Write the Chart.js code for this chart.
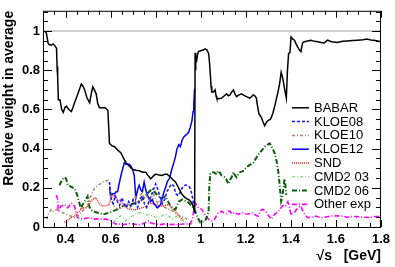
<!DOCTYPE html>
<html>
<head>
<meta charset="utf-8">
<script src="https://cdn.jsdelivr.net/npm/chart.js@4.4.1/dist/chart.umd.min.js"></script>
<style>
  html, body { margin: 0; padding: 0; background: #fff; }
  #wrap { width: 395px; height: 267px; }
</style>
</head>
<body>
<div id="wrap"><canvas id="chart" width="395" height="267"></canvas></div>
<script>
// Axis titles
const xTitle = '\u221As   [GeV]';
const yTitle = 'Relative weight in average';

// Series: [sqrt(s) in GeV, relative weight]
const babar = [
  [0.308,1.0],[0.315,0.99],[0.323,0.937],[0.330,0.93],[0.338,0.93],[0.345,0.935],[0.353,0.925],[0.360,0.913],
  [0.363,0.80],[0.364,0.82],[0.366,0.77],[0.368,0.65],[0.375,0.65],[0.383,0.60],[0.390,0.585],[0.397,0.61],
  [0.404,0.616],[0.415,0.60],[0.426,0.59],[0.433,0.61],[0.440,0.634],[0.455,0.68],[0.470,0.73],[0.477,0.72],
  [0.485,0.70],[0.495,0.66],[0.507,0.634],[0.514,0.68],[0.521,0.715],[0.528,0.70],[0.536,0.68],[0.543,0.63],
  [0.550,0.61],[0.560,0.608],[0.573,0.61],[0.580,0.605],[0.588,0.595],[0.592,0.50],[0.595,0.427],[0.605,0.415],
  [0.617,0.41],[0.630,0.395],[0.646,0.378],[0.658,0.35],[0.668,0.33],[0.683,0.31],[0.697,0.295],[0.712,0.29],
  [0.727,0.287],[0.742,0.28],[0.756,0.28],[0.765,0.265],[0.778,0.246],[0.790,0.26],[0.800,0.27],[0.815,0.265],
  [0.829,0.263],[0.840,0.27],[0.851,0.27],[0.866,0.254],[0.878,0.24],[0.888,0.23],[0.903,0.197],[0.915,0.17],
  [0.925,0.156],[0.937,0.145],[0.947,0.14],[0.955,0.13],[0.961,0.122],[0.969,0.098],[0.973,0.075],[0.975,0.89],
  [0.977,0.80],[0.979,0.86],[0.982,0.85],[0.986,0.88],[0.990,0.896],[1.000,0.90],[1.013,0.905],[1.020,0.91],
  [1.027,0.905],[1.035,0.888],[1.039,0.84],[1.042,0.79],[1.046,0.72],[1.049,0.69],[1.057,0.69],[1.064,0.70],
  [1.068,0.67],[1.071,0.658],[1.080,0.655],[1.093,0.658],[1.105,0.67],[1.115,0.68],[1.122,0.67],[1.130,0.674],
  [1.138,0.69],[1.145,0.70],[1.152,0.68],[1.159,0.666],[1.170,0.675],[1.181,0.68],[1.192,0.672],[1.203,0.666],
  [1.218,0.658],[1.225,0.665],[1.233,0.674],[1.240,0.67],[1.247,0.658],[1.252,0.62],[1.258,0.58],[1.269,0.56],
  [1.277,0.535],[1.284,0.517],[1.292,0.535],[1.300,0.545],[1.310,0.55],[1.320,0.58],[1.330,0.625],[1.343,0.69],
  [1.350,0.73],[1.357,0.79],[1.364,0.76],[1.372,0.707],[1.380,0.658],[1.385,0.80],[1.390,0.885],[1.396,0.89],
  [1.401,0.97],[1.408,0.96],[1.416,0.954],[1.423,0.935],[1.430,0.92],[1.438,0.905],[1.445,0.896],[1.452,0.94],
  [1.460,0.946],[1.475,0.95],[1.489,0.954],[1.505,0.948],[1.519,0.946],[1.535,0.942],[1.548,0.94],[1.563,0.954],
  [1.580,0.946],[1.607,0.942],[1.630,0.948],[1.650,0.95],[1.675,0.952],[1.695,0.954],[1.720,0.956],[1.738,0.96],
  [1.755,0.955],[1.768,0.954],[1.785,0.95],[1.800,0.946]
];

const kloe08 = [
  [0.595,0.23],[0.603,0.14],[0.612,0.12],[0.620,0.16],[0.630,0.13],[0.640,0.11],[0.650,0.15],[0.660,0.12],
  [0.670,0.10],[0.680,0.13],[0.690,0.11],[0.700,0.14],[0.710,0.12],[0.720,0.10],[0.730,0.14],[0.740,0.16],
  [0.750,0.12],[0.760,0.10],[0.770,0.13],[0.780,0.16],[0.790,0.19],[0.800,0.22],[0.810,0.19],[0.820,0.15],
  [0.830,0.12],[0.840,0.14],[0.850,0.18],[0.860,0.20],[0.870,0.22],[0.880,0.21],[0.890,0.17],[0.900,0.16],
  [0.910,0.18],[0.920,0.205],[0.930,0.213],[0.940,0.213],[0.950,0.205],[0.958,0.18],[0.965,0.14],[0.970,0.10],
  [0.975,0.07]
];

const kloe10 = [
  [0.316,0.04],[0.325,0.07],[0.337,0.09],[0.345,0.081],[0.351,0.081],[0.360,0.09],[0.367,0.09],[0.380,0.075],
  [0.395,0.07],[0.410,0.06],[0.425,0.055],[0.440,0.05],[0.448,0.048],[0.460,0.06],[0.475,0.08],[0.490,0.10],
  [0.500,0.115],[0.510,0.15],[0.520,0.18],[0.530,0.20],[0.543,0.213],[0.555,0.22],[0.565,0.23],[0.573,0.232],
  [0.587,0.238],[0.595,0.22],[0.600,0.15],[0.610,0.12],[0.620,0.10],[0.635,0.09],[0.650,0.10],[0.665,0.11],
  [0.680,0.12],[0.690,0.10],[0.700,0.13],[0.710,0.16],[0.720,0.12],[0.730,0.15],[0.740,0.18],[0.750,0.14],
  [0.760,0.16],[0.770,0.13],[0.780,0.15],[0.790,0.17],[0.800,0.14],[0.810,0.12],[0.820,0.14],[0.830,0.11],
  [0.840,0.10],[0.860,0.09],[0.880,0.08],[0.900,0.06],[0.920,0.05],[0.940,0.04]
];

const kloe12 = [
  [0.595,0.20],[0.600,0.16],[0.608,0.17],[0.617,0.17],[0.625,0.18],[0.631,0.18],[0.638,0.22],[0.646,0.263],
  [0.653,0.295],[0.661,0.328],[0.668,0.32],[0.675,0.32],[0.683,0.32],[0.690,0.312],[0.697,0.295],[0.705,0.263],
  [0.712,0.147],[0.720,0.19],[0.727,0.213],[0.734,0.19],[0.741,0.18],[0.749,0.23],[0.756,0.19],[0.763,0.164],
  [0.771,0.145],[0.778,0.13],[0.785,0.14],[0.792,0.12],[0.800,0.11],[0.807,0.098],[0.815,0.105],[0.822,0.115],
  [0.830,0.15],[0.837,0.18],[0.844,0.20],[0.851,0.23],[0.862,0.25],[0.873,0.30],[0.881,0.33],[0.888,0.36],
  [0.895,0.40],[0.903,0.42],[0.910,0.41],[0.917,0.443],[0.925,0.46],[0.932,0.468],[0.940,0.475],[0.947,0.485],
  [0.954,0.51],[0.961,0.542],[0.966,0.59],[0.969,0.625],[0.973,0.707]
];

const snd = [
  [0.395,0.024],[0.405,0.032],[0.417,0.04],[0.428,0.05],[0.440,0.057],[0.450,0.07],[0.461,0.081],[0.476,0.098],
  [0.490,0.098],[0.505,0.115],[0.512,0.13],[0.520,0.14],[0.534,0.15],[0.542,0.135],[0.549,0.122],[0.560,0.11],
  [0.571,0.106],[0.582,0.11],[0.593,0.115],[0.600,0.14],[0.610,0.16],[0.620,0.155],[0.630,0.14],[0.645,0.13],
  [0.660,0.11],[0.675,0.095],[0.690,0.09],[0.710,0.088],[0.730,0.095],[0.745,0.10],[0.756,0.106],[0.768,0.115],
  [0.778,0.122],[0.790,0.118],[0.800,0.115],[0.815,0.11],[0.829,0.106],[0.845,0.11],[0.859,0.115],[0.870,0.10],
  [0.881,0.085],[0.890,0.075],[0.903,0.057],[0.910,0.048],[0.917,0.035],[0.925,0.03]
];

const cmd203 = [
  [0.615,0.02],[0.624,0.04],[0.635,0.05],[0.646,0.057],[0.657,0.045],[0.668,0.032],[0.680,0.045],[0.695,0.055],
  [0.710,0.065],[0.727,0.073],[0.742,0.07],[0.756,0.065],[0.770,0.06],[0.785,0.057],[0.800,0.052],[0.815,0.048],
  [0.830,0.058],[0.844,0.065],[0.858,0.055],[0.873,0.04],[0.888,0.05],[0.903,0.057],[0.915,0.045],[0.925,0.032],
  [0.935,0.02],[0.945,0.012]
];

const cmd206 = [
  [0.373,0.213],[0.380,0.23],[0.388,0.245],[0.395,0.254],[0.403,0.246],[0.410,0.213],[0.418,0.21],[0.425,0.205],
  [0.440,0.197],[0.447,0.18],[0.454,0.156],[0.462,0.12],[0.469,0.09],[0.476,0.115],[0.483,0.125],[0.490,0.14],
  [0.498,0.156],[0.505,0.106],[0.512,0.09],[0.520,0.081],[0.530,0.078],[0.542,0.073],[0.553,0.07],[0.564,0.065],
  [0.578,0.068],[0.593,0.073],[0.610,0.081],[0.630,0.09],[0.653,0.106],[0.670,0.11],[0.690,0.115],[0.712,0.122],
  [0.727,0.13],[0.741,0.14],[0.756,0.16],[0.771,0.18],[0.785,0.197],[0.793,0.185],[0.800,0.172],[0.810,0.16],
  [0.822,0.147],[0.833,0.15],[0.844,0.156],[0.855,0.13],[0.866,0.106],[0.877,0.095],[0.888,0.09],[0.895,0.11],
  [0.903,0.13],[0.910,0.135],[0.917,0.14],[0.928,0.135],[0.940,0.13],[0.950,0.12],[0.961,0.106],[0.969,0.095],
  [0.976,0.08],[0.985,0.05],[0.998,0.024],[1.010,0.028],[1.020,0.032],[1.030,0.06],[1.035,0.08],[1.038,0.20],
  [1.042,0.27],[1.050,0.28],[1.057,0.28],[1.064,0.275],[1.071,0.27],[1.079,0.287],[1.086,0.275],[1.093,0.263],
  [1.100,0.26],[1.108,0.254],[1.115,0.24],[1.123,0.22],[1.130,0.24],[1.137,0.254],[1.145,0.28],[1.152,0.265],
  [1.159,0.254],[1.167,0.27],[1.174,0.28],[1.181,0.283],[1.189,0.287],[1.200,0.30],[1.211,0.312],[1.222,0.32],
  [1.233,0.328],[1.245,0.35],[1.255,0.37],[1.270,0.39],[1.284,0.41],[1.295,0.42],[1.306,0.427],[1.315,0.41],
  [1.328,0.378],[1.336,0.34],[1.343,0.295],[1.350,0.22],[1.357,0.131],[1.362,0.15],[1.368,0.21],[1.372,0.246],
  [1.376,0.21],[1.380,0.164]
];

const otherExp = [
  [0.359,0.164],[0.363,0.15],[0.366,0.14],[0.367,0.08],[0.373,0.095],[0.380,0.106],[0.388,0.11],[0.395,0.115],
  [0.402,0.108],[0.410,0.098],[0.418,0.11],[0.425,0.122],[0.433,0.115],[0.440,0.106],[0.447,0.075],[0.454,0.048],
  [0.465,0.042],[0.476,0.04],[0.490,0.045],[0.505,0.048],[0.520,0.042],[0.534,0.04],[0.550,0.042],[0.565,0.04],
  [0.579,0.04],[0.590,0.036],[0.600,0.032],[0.615,0.02],[0.630,0.012],[0.645,0.015],[0.660,0.012],[0.675,0.016],
  [0.690,0.018],[0.710,0.014],[0.730,0.01],[0.750,0.02],[0.770,0.032],[0.780,0.02],[0.800,0.015],[0.820,0.012],
  [0.840,0.016],[0.860,0.012],[0.880,0.014],[0.900,0.012],[0.920,0.015],[0.940,0.016],[0.955,0.016],[0.965,0.05],
  [0.972,0.10],[0.976,0.122],[0.983,0.11],[0.990,0.098],[1.005,0.09],[1.013,0.073],[1.020,0.06],[1.027,0.048],
  [1.035,0.04],[1.042,0.032],[1.049,0.032],[1.057,0.035],[1.064,0.045],[1.071,0.06],[1.079,0.073],[1.086,0.075],
  [1.093,0.081],[1.100,0.075],[1.108,0.07],[1.115,0.068],[1.123,0.08],[1.130,0.081],[1.137,0.068],[1.145,0.07],
  [1.152,0.074],[1.159,0.068],[1.167,0.065],[1.178,0.07],[1.189,0.073],[1.200,0.068],[1.211,0.065],[1.222,0.072],
  [1.233,0.07],[1.245,0.06],[1.255,0.055],[1.262,0.073],[1.270,0.088],[1.277,0.09],[1.284,0.082],[1.291,0.075],
  [1.300,0.06],[1.313,0.04],[1.320,0.05],[1.328,0.065],[1.340,0.075],[1.350,0.09],[1.357,0.098],[1.365,0.11],
  [1.372,0.105],[1.380,0.11],[1.387,0.128],[1.394,0.10],[1.401,0.06],[1.408,0.07],[1.416,0.075],[1.423,0.085],
  [1.430,0.095],[1.438,0.105],[1.445,0.106],[1.452,0.085],[1.460,0.068],[1.468,0.055],[1.475,0.048],[1.490,0.05],
  [1.505,0.056],[1.520,0.052],[1.540,0.048],[1.560,0.052],[1.580,0.056],[1.607,0.057],[1.630,0.055],[1.650,0.05],
  [1.675,0.054],[1.700,0.052],[1.725,0.05],[1.753,0.048],[1.770,0.052],[1.790,0.055],[1.800,0.06]
];

const FONT = "'Liberation Sans', Arial, Helvetica, sans-serif";
Chart.defaults.font.family = FONT;
Chart.defaults.color = '#000';

function pts(series) {
    return series.map(p => ({ x: p[0], y: p[1] }));
}

function line(label, series, color, width, dash) {
    return {
        label: label,
        data: pts(series),
        borderColor: color,
        backgroundColor: color,
        borderWidth: width,
        borderDash: dash,
        pointRadius: 0,
        tension: 0,
        fill: false
    };
}

// ROOT-like frame with inward ticks on all four sides
const frameTicks = {
    id: 'frameTicks',
    afterDraw(chart) {
        const { ctx, chartArea: a, scales: { x, y } } = chart;
        ctx.save();
        ctx.strokeStyle = '#000';
        ctx.lineWidth = 1;
        ctx.strokeRect(a.left + 0.5, a.top + 0.5, a.right - a.left - 1, a.bottom - a.top);
        ctx.beginPath();
        for (let i = 6; i <= 36; i++) {
            const px = Math.round(x.getPixelForValue(i * 0.05)) + 0.5;
            const len = i % 4 === 0 ? 7 : 4;
            ctx.moveTo(px, a.bottom); ctx.lineTo(px, a.bottom - len);
            ctx.moveTo(px, a.top); ctx.lineTo(px, a.top + len);
        }
        for (let i = 0; i <= 22; i++) {
            const py = Math.round(y.getPixelForValue(i * 0.05)) + 0.5;
            const len = i % 4 === 0 ? 9 : 5;
            ctx.moveTo(a.left, py); ctx.lineTo(a.left + len, py);
            ctx.moveTo(a.right, py); ctx.lineTo(a.right - len, py);
        }
        ctx.stroke();
        ctx.restore();
    }
};

// Legend drawn inside the frame, right side
const innerLegend = {
    id: 'innerLegend',
    afterDraw(chart) {
        const { ctx, chartArea: a } = chart;
        const x0 = a.right - 89;
        const y0 = a.top + 97;
        ctx.save();
        ctx.font = '13px ' + FONT;
        ctx.textBaseline = 'middle';
        chart.data.datasets.forEach((ds, i) => {
            const yy = y0 + i * 13.8;
            ctx.strokeStyle = ds.borderColor;
            ctx.lineWidth = Math.min(ds.borderWidth, 2);
            ctx.setLineDash(ds.borderDash || []);
            ctx.beginPath();
            ctx.moveTo(x0, yy);
            ctx.lineTo(x0 + 17, yy);
            ctx.stroke();
            ctx.setLineDash([]);
            ctx.fillStyle = '#000';
            ctx.fillText(ds.label, x0 + 22, yy + 0.5);
        });
        ctx.restore();
    }
};

const ctx = document.getElementById('chart').getContext('2d');
new Chart(ctx, {
    type: 'line',
    data: {
        datasets: [
            line('BABAR', babar, '#000000', 1.5, []),
            line('KLOE08', kloe08, '#1010ff', 1.5, [3, 2]),
            line('KLOE10', kloe10, '#a87f66', 1.5, [3, 2, 1, 2]),
            line('KLOE12', kloe12, '#0000ff', 1.5, []),
            line('SND', snd, '#ff1a1a', 1.5, [1, 1]),
            line('CMD2 03', cmd203, '#74d874', 1.3, [3, 2, 1, 2]),
            line('CMD2 06', cmd206, '#0b5e0b', 2, [5, 2, 1, 2]),
            line('Other exp', otherExp, '#ff00ff', 1.6, [5, 2, 1, 2])
        ]
    },
    options: {
        responsive: false,
        animation: false,
        devicePixelRatio: 1,
        layout: { padding: { top: 3, right: 11, left: 1, bottom: 2 } },
        plugins: {
            legend: { display: false },
            tooltip: { enabled: false }
        },
        scales: {
            x: {
                type: 'linear',
                min: 0.3,
                max: 1.8,
                afterFit: (s) => { s.height = 38; },
                grid: { display: false, drawTicks: false },
                border: { display: false },
                ticks: {
                    stepSize: 0.2,
                    includeBounds: false,
                    autoSkip: false,
                    maxRotation: 0,
                    padding: 5,
                    font: { size: 13, weight: 'bold' },
                    callback: (v) => String(+v.toFixed(1))
                },
                title: {
                    display: true,
                    text: xTitle,
                    align: 'end',
                    padding: { top: 0, bottom: 0 },
                    font: { size: 14, weight: 'bold' }
                }
            },
            y: {
                type: 'linear',
                min: 0,
                max: 1.104,
                afterFit: (s) => { s.width = 42; },
                grid: {
                    drawTicks: false,
                    lineWidth: 2,
                    color: (c) => (c.tick && Math.abs(c.tick.value - 1) < 1e-6) ? '#d0d0d0' : 'rgba(0,0,0,0)'
                },
                border: { display: false },
                ticks: {
                    stepSize: 0.2,
                    includeBounds: false,
                    padding: 3,
                    font: { size: 13, weight: 'bold' },
                    callback: (v) => String(+v.toFixed(1))
                },
                title: {
                    display: true,
                    text: yTitle,
                    align: 'end',
                    padding: { top: 0, bottom: 0 },
                    font: { size: 14, weight: 'bold' }
                }
            }
        }
    },
    plugins: [frameTicks, innerLegend]
});
</script>
</body>
</html>
